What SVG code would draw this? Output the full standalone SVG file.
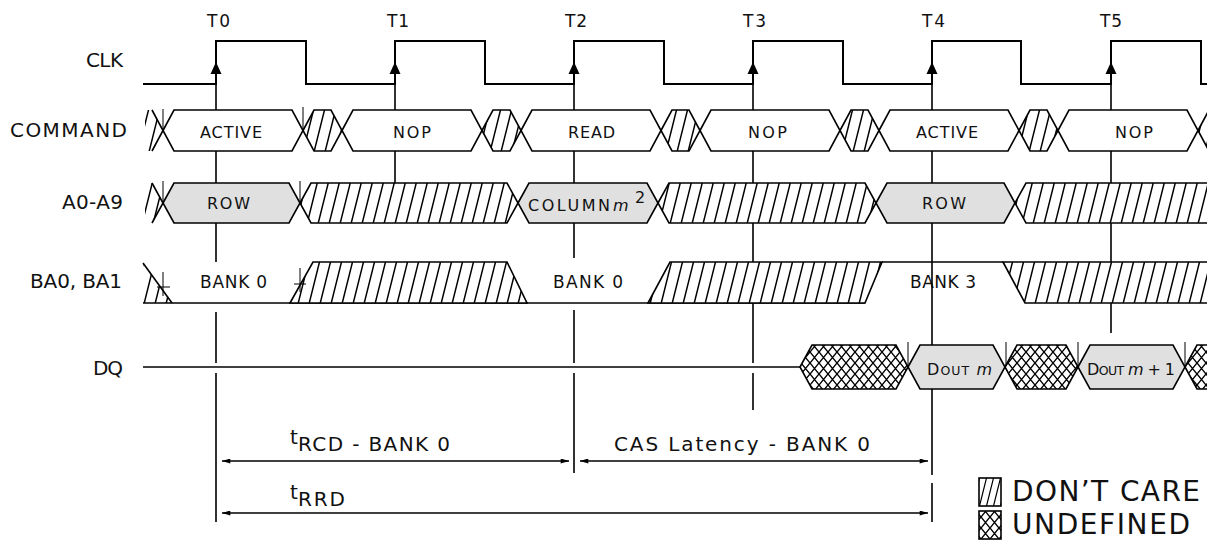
<svg xmlns="http://www.w3.org/2000/svg" width="1207" height="542" viewBox="0 0 1207 542">
<style>
text{font-family:"DejaVu Sans","Liberation Sans",sans-serif;fill:#111}
.lbl{font-size:20px}
.tk{font-size:17px}
.cell{font-size:16px}
.bk{font-size:17px}
.tim{font-size:20px}
.leg{font-size:28px}
.w{fill:#fff;stroke:#000;stroke-width:1.6;stroke-linejoin:miter}
.g{fill:#e0e0e0;stroke:#000;stroke-width:1.6}
.h{fill:url(#hatch);stroke:#000;stroke-width:1.6}
.u{fill:url(#undef);stroke:#000;stroke-width:1.6}
.ln{fill:none;stroke:#000;stroke-width:1.6}
.gd{fill:none;stroke:#000;stroke-width:1.6}
.tick{fill:none;stroke:#000;stroke-width:1}
.clk{fill:none;stroke:#000;stroke-width:2}
.ar{fill:#000}
.dim{fill:none;stroke:#000;stroke-width:1.6;marker-start:url(#ah);marker-end:url(#ah)}
</style>
<defs>
<pattern id="hatch" patternUnits="userSpaceOnUse" width="11" height="44">
<rect width="11" height="44" fill="#fff"/>
<path d="M-1,48 L12,-4 M-12,48 L1,-4 M10,48 L23,-4" stroke="#000" stroke-width="1.5"/>
</pattern>
<pattern id="hatchS" patternUnits="userSpaceOnUse" width="7" height="28">
<rect width="7" height="28" fill="#fff"/>
<path d="M-1,32 L8,-4 M-8,32 L1,-4 M6,32 L15,-4" stroke="#000" stroke-width="1.2"/>
</pattern>
<pattern id="undef" patternUnits="userSpaceOnUse" width="9" height="11">
<rect width="9" height="11" fill="#fff"/>
<path d="M-1,-1.2 L10,12.2 M10,-1.2 L-1,12.2" stroke="#000" stroke-width="1.4"/>
</pattern>
<marker id="ah" viewBox="0 0 10 6" refX="10" refY="3" markerWidth="9" markerHeight="5" markerUnits="userSpaceOnUse" orient="auto-start-reverse">
<path d="M0,0 L10,3 L0,6 z" fill="#000"/>
</marker>
</defs>

<g id="tick-labels">
<text class="tk" x="207" y="27" textLength="23">T0</text>
<text class="tk" x="387" y="27" textLength="22">T1</text>
<text class="tk" x="565" y="27" textLength="22">T2</text>
<text class="tk" x="743" y="27" textLength="23">T3</text>
<text class="tk" x="922" y="27" textLength="23">T4</text>
<text class="tk" x="1100" y="27" textLength="22">T5</text>
</g>

<g id="row-labels">
<text class="lbl" x="86" y="67" textLength="37">CLK</text>
<text class="lbl" x="10" y="137" textLength="117">COMMAND</text>
<text class="lbl" x="62" y="209" textLength="61">A0-A9</text>
<text class="lbl" x="30" y="288" textLength="92">BA0, BA1</text>
<text class="lbl" x="93" y="375" textLength="30">DQ</text>
</g>

<g id="clk">
<path class="clk" d="M143,84 H216 V41 H306 V84 H395 V41 H485 V84 H574 V41 H664 V84 H753 V41 H843 V84 H932 V41 H1021 V84 H1111 V41 H1201 V84 H1207"/>
<polygon class="ar" points="216,62 221.5,74 210.5,74"/>
<polygon class="ar" points="395,62 400.5,74 389.5,74"/>
<polygon class="ar" points="574,62 579.5,74 568.5,74"/>
<polygon class="ar" points="753,62 758.5,74 747.5,74"/>
<polygon class="ar" points="932,62 937.5,74 926.5,74"/>
<polygon class="ar" points="1111,62 1116.5,74 1105.5,74"/>
</g>

<g id="command">
<polygon points="145,110 152,110 163,130.5 152,151 145,151" fill="url(#hatch)"/>
<path class="ln" d="M152,110 L163,130.5 L152,151"/>
<polygon class="w" points="163,130.5 174,110 292,110 303,130.5 292,151 174,151"/>
<polygon class="h" points="303,130.5 314,110 331,110 342,130.5 331,151 314,151"/>
<polygon class="w" points="342,130.5 353,110 471,110 482,130.5 471,151 353,151"/>
<polygon class="h" points="482,130.5 493,110 510,110 521,130.5 510,151 493,151"/>
<polygon class="w" points="521,130.5 532,110 650,110 661,130.5 650,151 532,151"/>
<polygon class="h" points="661,130.5 672,110 689,110 700,130.5 689,151 672,151"/>
<polygon class="w" points="700,130.5 711,110 829,110 840,130.5 829,151 711,151"/>
<polygon class="h" points="840,130.5 851,110 868,110 879,130.5 868,151 851,151"/>
<polygon class="w" points="879,130.5 890,110 1008,110 1019,130.5 1008,151 890,151"/>
<polygon class="h" points="1019,130.5 1030,110 1047,110 1058,130.5 1047,151 1030,151"/>
<polygon class="w" points="1058,130.5 1069,110 1187,110 1198,130.5 1187,151 1069,151"/>
<polygon class="h" points="1198,130.5 1209,110 1220,110 1220,151 1209,151"/>
<path class="tick" d="M163,109 V130 M303,107 V130"/>
<text class="cell" x="200" y="138" textLength="62">ACTIVE</text>
<text class="cell" x="393" y="138" textLength="38">NOP</text>
<text class="cell" x="568" y="138" textLength="47">READ</text>
<text class="cell" x="748" y="138" textLength="39">NOP</text>
<text class="cell" x="916" y="138" textLength="62">ACTIVE</text>
<text class="cell" x="1115" y="138" textLength="38">NOP</text>
</g>

<g id="address">
<polygon points="145,183 152,183 163,203 152,223 145,223" fill="url(#hatch)"/>
<path class="ln" d="M152,183 L163,203 L152,223"/>
<polygon class="g" points="163,203 174,183 289,183 300,203 289,223 174,223"/>
<polygon class="h" points="300,203 311,183 507,183 518,203 507,223 311,223"/>
<polygon class="g" points="518,203 529,183 647,183 658,203 647,223 529,223"/>
<polygon class="h" points="658,203 669,183 865,183 876,203 865,223 669,223"/>
<polygon class="g" points="876,203 887,183 1004,183 1015,203 1004,223 887,223"/>
<polygon class="h" points="1015,203 1026,183 1220,183 1220,223 1026,223"/>
<path class="tick" d="M163,181 V201 M300,181 V201"/>
<text class="cell" x="207" y="209" textLength="43">ROW</text>
<text class="cell" x="528" y="211" textLength="82">COLUMN</text>
<text class="cell" x="613" y="211" font-style="italic" textLength="17">m</text>
<text class="cell" x="635" y="203" font-size="14" textLength="8">2</text>
<text class="cell" x="922" y="209" textLength="44">ROW</text>
</g>

<g id="bank">
<polygon points="143,263 172,303 143,303" fill="url(#hatch)"/>
<path class="ln" d="M143,263 L172,303"/>
<path class="ln" d="M143,303 H865"/>
<polygon class="h" points="290,303 313,262 507,262 527,303"/>
<polygon class="h" points="648,303 670,262 882,262 865,303"/>
<path class="ln" d="M882,262 H1003"/>
<polygon class="h" points="1003,262 1025,303 1220,303 1220,262"/>
<path class="tick" d="M163,272 V296 M157,287 H170 M300,268 V292 M294,284 H306"/>
<text class="bk" x="200" y="288" textLength="67">BANK 0</text>
<text class="bk" x="553" y="288" textLength="70">BANK 0</text>
<text class="bk" x="910" y="288" textLength="66">BANK 3</text>
</g>

<g id="dq">
<path class="ln" d="M143,367 H800"/>
<polygon class="u" points="800,367 812,345 896,345 908,367 896,389 812,389"/>
<polygon class="g" points="908,367 920,345 993,345 1005,367 993,389 920,389"/>
<polygon class="u" points="1005,367 1017,345 1066,345 1078,367 1066,389 1017,389"/>
<polygon class="g" points="1078,367 1090,345 1173,345 1185,367 1173,389 1090,389"/>
<polygon class="u" points="1185,367 1197,345 1220,345 1220,389 1197,389"/>
<path class="tick" d="M908,342 V366 M1006,342 V366 M1078,342 V366 M1185,342 V366"/>
<text class="cell" x="927" y="375" textLength="65">D<tspan font-size="12.5">OUT</tspan> <tspan font-style="italic">m</tspan></text>
<text class="cell" x="1087" y="375" textLength="88">D<tspan font-size="12.5">OUT</tspan> <tspan font-style="italic">m</tspan> + 1</text>
</g>

<g id="connectors">
<path class="gd" d="M216,84 V110 M216,151 V183 M216,223 V262 M216,312 V363 M216,373 V522"/>
<path class="gd" d="M395,84 V110 M395,151 V183"/>
<path class="gd" d="M574,84 V110 M574,151 V183 M574,223 V258 M574,310 V363 M574,373 V473"/>
<path class="gd" d="M753,84 V110 M753,151 V183 M753,223 V262 M753,303 V363 M753,373 V410"/>
<path class="gd" d="M932,84 V110 M932,151 V183 M932,223 V345 M932,389 V475 M932,483 V522"/>
<path class="gd" d="M1111,84 V110 M1111,151 V183 M1111,223 V262 M1111,303 V333"/>
<path class="dim" d="M222,461 H569"/>
<path class="dim" d="M580,461 H928"/>
<path class="dim" d="M222,513 H928"/>
</g>

<g id="timing">
<text class="tim" y="451"><tspan x="290" dy="-7">t</tspan><tspan x="298" dy="7" textLength="152">RCD - BANK 0</tspan></text>
<text class="tim" x="614" y="451" textLength="256">CAS Latency - BANK 0</text>
<text class="tim" y="506"><tspan x="290" dy="-7">t</tspan><tspan x="298" dy="7" textLength="47">RRD</tspan></text>
</g>

<g id="legend">
<rect x="979" y="478" width="22" height="28" fill="url(#hatchS)" stroke="#000" stroke-width="1.6"/>
<text class="leg" x="1012" y="501" textLength="188">DON’T CARE</text>
<rect class="u" x="979" y="511" width="22" height="28"/>
<text class="leg" x="1012" y="534" textLength="178">UNDEFINED</text>
</g>
</svg>
